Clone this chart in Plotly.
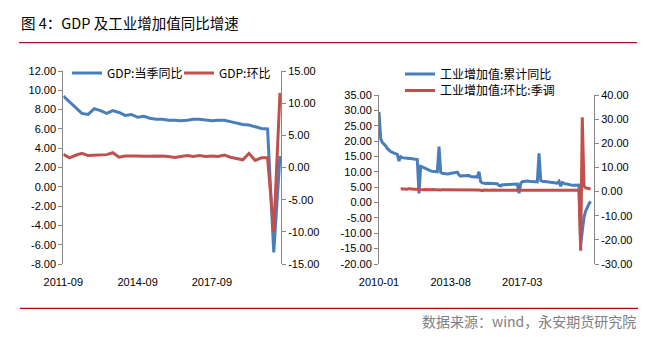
import plotly.graph_objects as go

# ---------------- data ----------------
# Left chart: quarterly GDP, 2011-09 .. 2020-06
gdp_quarters = [f"{y}-{m:02d}" for y in range(2011, 2021) for m in (3, 6, 9, 12)]
gdp_quarters = [q for q in gdp_quarters if "2011-09" <= q <= "2020-06"]
gdp_yoy = [9.4, 8.8, 8.1, 7.6, 7.5, 8.1, 7.9, 7.6, 7.9, 7.7,
           7.4, 7.5, 7.2, 7.3, 7.1, 7.0, 7.0, 6.9, 6.9, 6.85,
           6.9, 7.0, 7.0, 6.9, 6.85, 6.9, 6.9, 6.75, 6.6, 6.45,
           6.4, 6.2, 6.05, 6.0, -6.8, 3.2]
gdp_qoq = [2.05, 1.5, 1.9, 2.2, 1.85, 1.9, 1.9, 2.0, 2.3, 1.6,
           1.8, 1.85, 1.8, 1.75, 1.8, 1.75, 1.8, 1.7, 1.55, 1.7,
           1.85, 1.7, 1.85, 1.7, 1.8, 1.7, 1.95, 1.6, 1.4, 1.2,
           2.2, 1.1, 1.5, 1.5, -10.0, 11.6]

# Right chart: monthly industrial value added, 2010-01 .. 2020-08
ind_months = [f"{y}-{m:02d}" for y in range(2010, 2021) for m in range(1, 13)]
ind_months = [m for m in ind_months if m <= "2020-08"]
ind_cum_yoy = (
    [29.5, 20.7, 19.6, 19.1, 18.5, 17.6, 17.0, 16.6, 16.3, 16.1, 15.8, 15.7] +
    [13.5, 14.9, 14.6, 14.5, 14.3, 14.4, 14.3, 14.3, 14.2, 14.2, 14.1, 14.0] +
    [3.0, 11.8, 11.6, 11.3, 11.0, 10.7, 10.5, 10.3, 10.2, 10.1, 10.0, 10.0] +
    [18.2, 9.9, 9.5, 9.4, 9.4, 9.3, 9.4, 9.5, 9.6, 9.7, 9.7, 9.9] +
    [9.0, 8.6, 8.7, 8.7, 8.7, 8.8, 8.8, 8.5, 8.5, 8.4, 8.3, 8.3] +
    [10.0, 6.8, 6.4, 6.2, 6.2, 6.3, 6.3, 6.3, 6.2, 6.1, 6.1, 6.1] +
    [5.6, 5.4, 5.8, 5.8, 5.9, 6.0, 6.0, 6.0, 6.0, 6.0, 6.0, 6.0] +
    [3.0, 6.3, 6.8, 6.9, 6.9, 7.0, 6.9, 6.9, 6.8, 6.8, 6.7, 6.7] +
    [16.0, 7.2, 6.9, 6.9, 6.9, 6.8, 6.7, 6.6, 6.5, 6.5, 6.4, 6.3] +
    [6.9, 5.3, 6.5, 6.2, 6.0, 6.0, 5.8, 5.6, 5.6, 5.6, 5.6, 5.7] +
    [5.7, -13.5, -8.4, -4.9, -2.8, -1.3, -0.4, 0.4]
)
ind_mom_sa = (
    [None] * 13 +
    [1.2, 1.1, 1.0, 1.1, 1.0, 1.2, 1.0, 1.1, 1.0, 1.1, 1.0] +
    [0.9, 0.8, 0.7, 0.8, 0.9, 0.8, 0.7, 0.8, 0.9, 0.8, 0.8, 0.9] +
    [0.8, 0.7, 0.8, 0.8, 0.7, 0.8, 0.9, 0.8, 0.8, 0.7, 0.8, 0.8] +
    [0.7, 0.8, 0.7, 0.7, 0.8, 0.6, 0.7, 0.8, 0.7, 0.6, 0.7, 0.7] +
    [0.6, 0.5, 0.4, 0.6, 0.5, 0.5, 0.4, 0.5, 0.6, 0.5, 0.5, 0.4] +
    [0.5, 0.5, 0.6, 0.4, 0.5, 0.5, 0.5, 0.4, 0.5, 0.5, 0.5, 0.6] +
    [0.5, 0.6, 0.5, 0.5, 0.6, 0.5, 0.5, 0.4, 0.5, 0.6, 0.5, 0.5] +
    [0.6, 0.5, 0.5, 0.6, 0.5, 0.5, 0.4, 0.5, 0.5, 0.5, 0.4, 0.5] +
    [0.4, 0.5, 0.6, 0.5, 0.5, 0.5, 0.4, 0.5, 0.6, 0.5, 0.5, 0.5] +
    [0.5, -24.5, 30.8, 2.3, 1.5, 1.4, 1.2, 1.1]
)

left_x_ticks = ["2011-09", "2014-09", "2017-09"]
right_x_ticks = ["2010-01", "2013-08", "2017-03"]
y1_ticks = list(range(-8, 13, 2))
y2_ticks = list(range(-15, 16, 5))
y3_ticks = list(range(-20, 36, 5))
y4_ticks = list(range(-30, 41, 10))

# ---------------- style ----------------
W, H = 653, 337
BLUE = "#4A7EBB"
RED = "#C0504D"
AX = "#868686"
NUM_FONT = dict(family="Liberation Sans, Arial, sans-serif", size=11, color="#000000")
CJK = "Noto Sans CJK SC, sans-serif"


def px(x):
    return x / W


def py(y):
    return 1 - y / H


def lab(v):
    return [f"{t:.2f}" for t in v]


fig = go.Figure()
fig.add_trace(go.Scatter(x=gdp_quarters, y=gdp_yoy, name="GDP:当季同比", mode="lines",
                         line=dict(color=BLUE, width=3), xaxis="x", yaxis="y",
                         legend="legend", showlegend=True))
fig.add_trace(go.Scatter(x=gdp_quarters, y=gdp_qoq, name="GDP:环比", mode="lines",
                         line=dict(color=RED, width=3), xaxis="x", yaxis="y2",
                         legend="legend2", showlegend=True))
fig.add_trace(go.Scatter(x=ind_months, y=ind_cum_yoy, name="工业增加值:累计同比", mode="lines",
                         line=dict(color=BLUE, width=3), xaxis="x3", yaxis="y3",
                         legend="legend3", showlegend=True))
fig.add_trace(go.Scatter(x=ind_months, y=ind_mom_sa, name="工业增加值:环比:季调", mode="lines",
                         line=dict(color=RED, width=3), xaxis="x3", yaxis="y4",
                         legend="legend4", showlegend=True, connectgaps=False))

left_range = ["2011-09-01", "2020-06-16"]
right_range = ["2010-01-01", "2020-10-01"]

xlab = dict(type="date", showline=False, showgrid=False, zeroline=False, ticks="outside",
            ticklen=8, tickcolor="rgba(0,0,0,0)", tickfont=NUM_FONT, automargin=False)
xzero = dict(type="date", showticklabels=False, showline=True, linecolor=AX, linewidth=1,
             ticks="outside", ticklen=4, tickcolor=AX, showgrid=False, zeroline=False,
             automargin=False)
yax = dict(showline=True, linecolor=AX, linewidth=1, ticks="outside", ticklen=4,
           tickcolor=AX, showgrid=False, zeroline=False, tickfont=NUM_FONT, automargin=False)

fig.update_layout(
    width=W, height=H, margin=dict(l=0, r=0, t=0, b=0, pad=0, autoexpand=False),
    paper_bgcolor="white", plot_bgcolor="rgba(0,0,0,0)", showlegend=True,
    xaxis=dict(domain=[px(63.3), px(281)], anchor="y", range=left_range,
               tickvals=left_x_ticks, ticktext=left_x_ticks, **xlab),
    xaxis2=dict(overlaying="x", anchor="free", position=py(187), range=left_range,
                tickvals=left_x_ticks, **xzero),
    yaxis=dict(domain=[py(264), py(71)], anchor="x", range=[-8, 12],
               tickvals=y1_ticks, ticktext=lab(y1_ticks), **yax),
    yaxis2=dict(overlaying="y", side="right", anchor="x", range=[-15, 15],
                tickvals=y2_ticks, ticktext=lab(y2_ticks), **yax),
    xaxis3=dict(domain=[px(379), px(594)], anchor="y3", range=right_range,
                tickvals=right_x_ticks, ticktext=right_x_ticks, **xlab),
    xaxis4=dict(overlaying="x3", anchor="free", position=py(202.5), range=right_range,
                tickvals=right_x_ticks, **xzero),
    yaxis3=dict(domain=[py(264), py(95)], anchor="x3", range=[-20, 35],
                tickvals=y3_ticks, ticktext=lab(y3_ticks), **yax),
    yaxis4=dict(overlaying="y3", side="right", anchor="x3", range=[-30, 40],
                tickvals=y4_ticks, ticktext=lab(y4_ticks), **yax),
)

leg = dict(xanchor="left", yanchor="middle", bgcolor="rgba(0,0,0,0)", borderwidth=0,
           font=dict(family=CJK, size=12, color="#000000"), itemwidth=30, visible=True)
fig.update_layout(
    legend=dict(x=px(67), y=py(73), **leg),
    legend2=dict(x=px(179), y=py(73), **leg),
    legend3=dict(x=px(400), y=py(74), **leg),
    legend4=dict(x=px(400), y=py(90.5), **leg),
)

fig.add_shape(type="line", xref="paper", yref="paper", x0=px(19), x1=px(637),
              y0=py(42.7), y1=py(42.7), line=dict(color="#A0182F", width=1.2))
fig.add_shape(type="line", xref="paper", yref="paper", x0=px(20), x1=px(638),
              y0=py(308.3), y1=py(308.3), line=dict(color="#C00000", width=1.2))

fig.add_annotation(text="图 4：GDP 及工业增加值同比增速", xref="paper", yref="paper",
                   x=px(19), y=py(22.5), xanchor="left", yanchor="middle", showarrow=False,
                   font=dict(family=CJK, size=14.5, color="#000000"))
fig.add_annotation(text="数据来源：wind，永安期货研究院", xref="paper", yref="paper",
                   x=px(638), y=py(320.7), xanchor="right", yanchor="middle", showarrow=False,
                   font=dict(family=CJK, size=14, color="#808080"))

fig.write_html("out.html")
